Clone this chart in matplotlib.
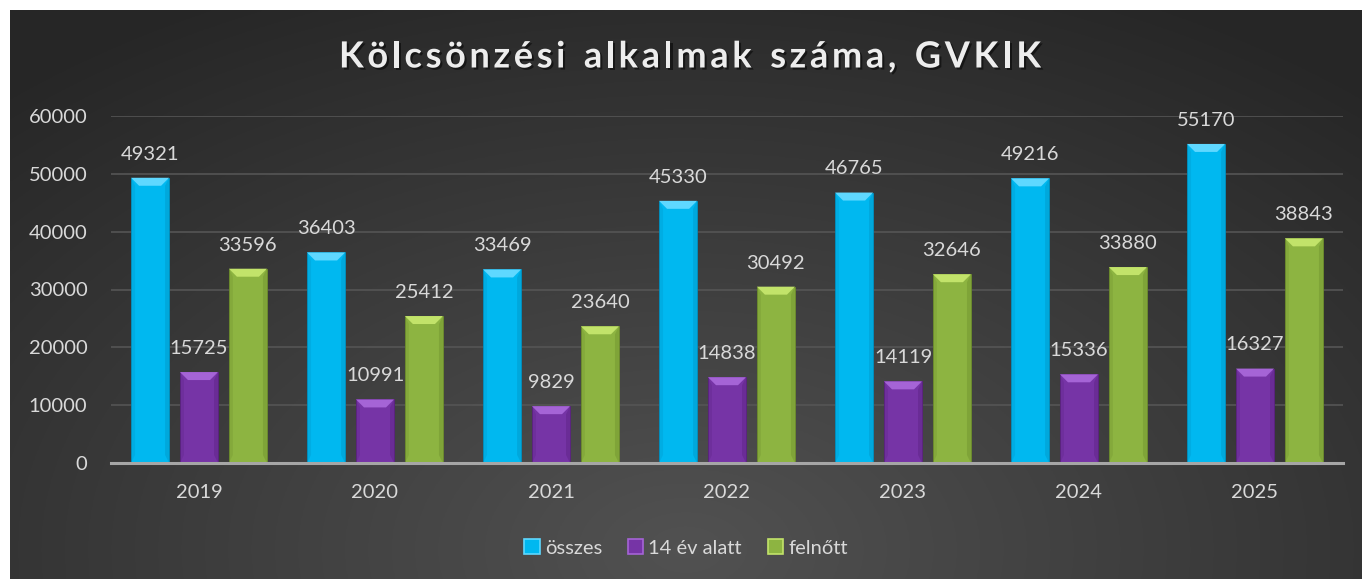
import numpy as np
import matplotlib
matplotlib.use("Agg")
import matplotlib.pyplot as plt
import matplotlib.patheffects as pe
from matplotlib.patches import Polygon, Patch

# data
years = ["2019", "2020", "2021", "2022", "2023", "2024", "2025"]
osszes = [49321, 36403, 33469, 45330, 46765, 49216, 55170]
gyerek = [15725, 10991, 9829, 14838, 14119, 15336, 16327]
felnott = [33596, 25412, 23640, 30492, 32646, 33880, 38843]
series_names = ["összes", "14 év alatt", "felnőtt"]
title = "Kölcsönzési alkalmak száma, GVKIK"

colors = ["#00B8F0", "#7634A6", "#8DB441"]
light = ["#5FD8FF", "#A564D6", "#C2E36A"]
dark = ["#0090C0", "#5A2280", "#6C8C2C"]

fonts = ["Lato", "DejaVu Sans"]
txt = "#D9D9D9"
fs = 14.5

W, H = 1362, 579
fig = plt.figure(figsize=(W / 100, H / 100), dpi=100)
fig.patch.set_facecolor("white")

# background panel with soft radial gradient
bg = fig.add_axes([10 / W, 0, 1 - 10 / W, 1 - 10 / H])
yy, xx = np.mgrid[0:1:300j, 0:1:600j]
r = np.sqrt(((xx - 0.5) / 0.75) ** 2 + ((yy - 0.05) / 1.1) ** 2)
g = np.clip(1 - r, 0, 1)
c0, c1 = 0.15, 0.32
img = c0 + (c1 - c0) * g
bg.imshow(np.dstack([img, img, img]), origin="lower", aspect="auto", extent=[0, 1, 0, 1])
bg.axis("off")

ax = fig.add_axes([111 / W, 1 - 463 / H, (1343 - 111) / W, (463 - 116) / H])
ax.set_facecolor("none")
ax.set_ylim(0, 60000)
ax.set_xlim(-0.5, len(years) - 0.5)

x = np.arange(len(years))
bw = 0.216
step = 0.278
px_x = len(years) / (1343 - 111)
px_y = 60000 / (463 - 116)
bev = 8

for i, vals in enumerate([osszes, gyerek, felnott]):
    xs = x + (i - 1) * step
    ax.bar(xs, vals, width=bw, color=colors[i], edgecolor=dark[i], linewidth=0.6, zorder=3,
           label=series_names[i])
    for xc, v in zip(xs, vals):
        l, rr = xc - bw / 2, xc + bw / 2
        bx, by = bev * px_x, bev * px_y
        # top bevel
        ax.add_patch(Polygon([[l, v], [rr, v], [rr - bx, v - by], [l + bx, v - by]],
                             closed=True, facecolor=light[i], edgecolor="none", zorder=4))
        # side shading
        ax.add_patch(Polygon([[l, v], [l + bx * 0.5, v - by], [l + bx * 0.5, by], [l, 0]],
                             closed=True, facecolor=dark[i], alpha=0.25, edgecolor="none", zorder=4))
        ax.add_patch(Polygon([[rr, v], [rr - bx * 0.5, v - by], [rr - bx * 0.5, by], [rr, 0]],
                             closed=True, facecolor=dark[i], alpha=0.4, edgecolor="none", zorder=4))
        ax.annotate(str(v), (xc, v), xytext=(0, 17), textcoords="offset points",
                    ha="center", va="center", fontsize=fs, color=txt, family=fonts, zorder=5)

ax.set_yticks(range(0, 60001, 10000))
ax.set_yticklabels([str(t) for t in range(0, 60001, 10000)])
ax.set_xticks(x)
ax.set_xticklabels(years)
for lab in ax.get_xticklabels() + ax.get_yticklabels():
    lab.set_family(fonts)
    lab.set_fontsize(fs)
    lab.set_color(txt)
ax.tick_params(axis="both", length=0)
ax.tick_params(axis="y", pad=17)
ax.tick_params(axis="x", pad=15)
ax.grid(axis="y", color="#555555", linewidth=1.2, zorder=0)
for s in ["top", "right", "left"]:
    ax.spines[s].set_visible(False)
ax.spines["bottom"].set_color("#A6A6A6")
ax.spines["bottom"].set_linewidth(2.2)
ax.spines["bottom"].set_zorder(6)

handles = [Patch(facecolor=colors[i], edgecolor=light[i], linewidth=1.2, label=series_names[i])
           for i in range(3)]
leg = fig.legend(handles=handles, loc="center", bbox_to_anchor=(686 / W, 1 - 548 / H), ncol=3,
                 frameon=False, handlelength=0.75, handleheight=0.75,
                 handletextpad=0.25, columnspacing=1.3, prop={"family": fonts, "size": fs})
for t in leg.get_texts():
    t.set_color(txt)

# title with wide letter spacing, drawn glyph by glyph
tkw = dict(fontsize=26, fontweight="bold", color="#EDEDED", family=fonts, va="center", ha="left")
rend = fig.canvas.get_renderer()
widths = []
for ch in title:
    probe = fig.text(0, 0, ch if ch != " " else "n", **tkw)
    wpx = probe.get_window_extent(rend).width
    widths.append(wpx * 0.55 if ch == " " else wpx)
    probe.remove()
target_w = 702
gap = (target_w - sum(widths)) / (len(title) - 1)
xpx = 690 - target_w / 2
shadow = [pe.withSimplePatchShadow(offset=(1.5, -1.5), shadow_rgbFace="black", alpha=0.5)]
for ch, wpx in zip(title, widths):
    if ch != " ":
        fig.text(xpx / W, 1 - 57 / H, ch, path_effects=shadow, **tkw)
    xpx += wpx + gap

fig.savefig("out.png", dpi=100)
